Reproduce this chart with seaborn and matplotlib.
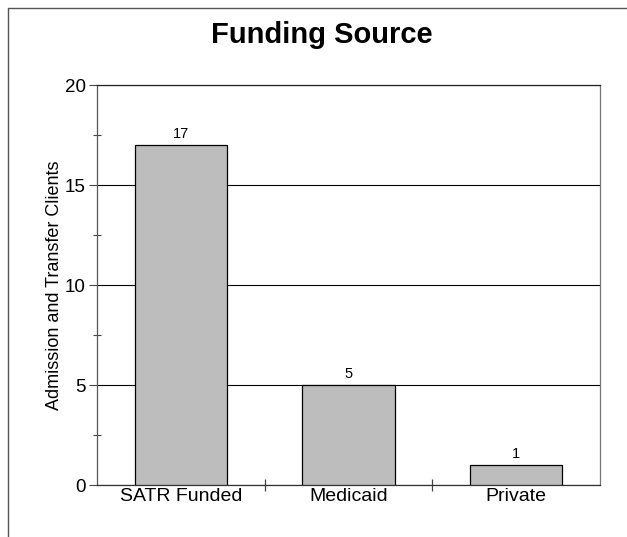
import matplotlib
matplotlib.use("Agg")
import matplotlib.pyplot as plt
from matplotlib.lines import Line2D
from matplotlib.ticker import MultipleLocator, FixedLocator
import seaborn as sns
import pandas as pd

categories = ["SATR Funded", "Medicaid", "Private"]
clients = [17, 5, 1]
y_ticks = [0, 5, 10, 15, 20]

sns.set_theme(style="white")
plt.rcParams["font.family"] = ["Liberation Sans", "DejaVu Sans"]
plt.rcParams["text.color"] = "black"
plt.rcParams["axes.labelcolor"] = "black"
plt.rcParams["xtick.color"] = "black"
plt.rcParams["ytick.color"] = "black"

df = pd.DataFrame({"source": categories, "clients": clients})

fig = plt.figure(figsize=(6.27, 5.37), dpi=100)
ax = fig.add_axes([97 / 627, 1 - 485 / 537, 503 / 627, 400 / 537])

sns.barplot(data=df, x="source", y="clients", ax=ax, color="#bdbdbd",
            saturation=1, width=0.55, edgecolor="black", linewidth=0.9,
            zorder=3)

ax.set_ylim(0, 20)
ax.set_xlim(-0.5, len(categories) - 0.5)
ax.set_yticks(y_ticks)
ax.yaxis.set_minor_locator(MultipleLocator(2.5))
ax.xaxis.set_minor_locator(FixedLocator([0.5, 1.5]))

ax.grid(axis="y", color="black", linewidth=0.8, zorder=0)
ax.grid(axis="x", visible=False)

ax.tick_params(axis="y", which="major", direction="out", length=6,
               width=0.8, color="#444444", labelsize=13.5, pad=2, left=True,
               labelcolor="black")
ax.tick_params(axis="y", which="minor", direction="inout", length=6,
               width=0.8, color="#444444", left=True)
ax.tick_params(axis="x", which="major", length=0, labelsize=14, pad=2,
               labelcolor="black")
ax.tick_params(axis="x", which="minor", direction="inout", length=8,
               width=0.9, color="#444444", bottom=True)

for side in ["left", "bottom", "top", "right"]:
    ax.spines[side].set_visible(True)
    ax.spines[side].set_linewidth(0.9)
ax.spines["left"].set_color("#555555")
ax.spines["bottom"].set_color("#333333")
ax.spines["top"].set_color("#222222")
ax.spines["right"].set_color("#777777")

for container in ax.containers:
    ax.bar_label(container, labels=[str(v) for v in clients],
                 padding=3, fontsize=10.5, color="black")

ax.set_xlabel("")
ax.set_ylabel("Admission and Transfer Clients", fontsize=13, color="black")
ax.yaxis.set_label_coords(-0.068, 0.5)

fig.text(322 / 627, 1 - 35 / 537, "Funding Source", ha="center",
         va="center", fontsize=21, fontweight="bold", color="black")

# outer chart frame (top and left edges)
fig.add_artist(Line2D([8 / 627, 1.0], [1 - 8 / 537, 1 - 8 / 537],
                      transform=fig.transFigure, color="#555555",
                      linewidth=1.0))
fig.add_artist(Line2D([8 / 627, 8 / 627], [1 - 8 / 537, 0.0],
                      transform=fig.transFigure, color="#555555",
                      linewidth=1.0))

fig.savefig("out.png", dpi=100)
